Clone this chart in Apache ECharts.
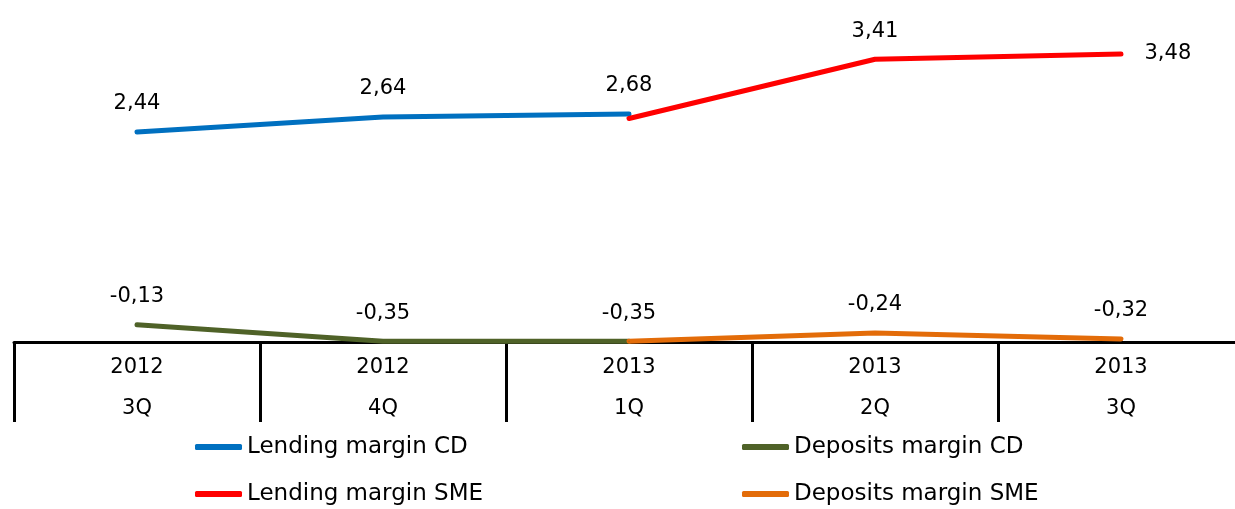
<!DOCTYPE html>
<html>
<head>
<meta charset="utf-8">
<script src="https://cdn.jsdelivr.net/npm/echarts@6/dist/echarts.min.js"></script>
<style>
  html, body { margin: 0; padding: 0; background: #ffffff; overflow: hidden; }
  #chart { width: 1245px; height: 509px; }
</style>
</head>
<body>
<div id="chart"></div>
<script>
// Quarters shown on the category axis
const years = ['2012', '2012', '2013', '2013', '2013'];
const quarters = ['3Q', '4Q', '1Q', '2Q', '3Q'];

// Margins, percentage points ('-' = no value for that quarter)
const lendingCD = [2.44, 2.64, 2.68, '-', '-'];
const lendingSME = ['-', '-', 2.62, 3.41, 3.48];
const depositsCD = [-0.13, -0.35, -0.35, '-', '-'];
const depositsSME = ['-', '-', -0.35, -0.24, -0.32];

// Which points carry a value label
const lendingCDLabels = [true, true, true, false, false];
const lendingSMELabels = [false, false, false, true, true];
const depositsCDLabels = [true, true, true, false, false];
const depositsSMELabels = [false, false, false, true, true];

const seriesNames = ['Lending margin CD', 'Lending margin SME', 'Deposits margin CD', 'Deposits margin SME'];
const colors = ['#0070C0', '#FF0000', '#4F6228', '#E36C09'];

const FONT = 'DejaVu Sans';
const fmt = v => String(v.toFixed(2)).replace('.', ',');

function buildData(values, labels, rightLast) {
  return values.map((v, i) => {
    if (v === '-') return '-';
    const item = { value: v, label: { show: labels[i] } };
    if (rightLast && i === values.length - 1) {
      item.label.position = 'right';
      item.label.distance = 23;
    }
    return item;
  });
}

function lineSeries(name, color, values, labels, rightLast) {
  return {
    name: name,
    type: 'line',
    data: buildData(values, labels, rightLast),
    symbol: 'circle',
    symbolSize: 1,
    showSymbol: true,
    connectNulls: false,
    silent: true,
    animation: false,
    lineStyle: { color: color, width: 5, cap: 'round', join: 'round' },
    itemStyle: { color: color },
    label: {
      show: true,
      position: 'top',
      distance: 17,
      color: '#000000',
      fontFamily: FONT,
      fontSize: 21,
      formatter: p => fmt(p.value)
    }
  };
}

function legendColumn(left, names) {
  return {
    orient: 'vertical',
    left: left,
    top: 435,
    padding: 0,
    itemWidth: 47,
    itemHeight: 6,
    itemGap: 23,
    icon: 'roundRect',
    data: names,
    textStyle: { color: '#000000', fontFamily: FONT, fontSize: 23, lineHeight: 24 }
  };
}

const chart = echarts.init(document.getElementById('chart'), null, { renderer: 'canvas' });

chart.setOption({
  backgroundColor: '#ffffff',
  animation: false,
  // the plot runs slightly past the visible right edge
  grid: { left: 14, right: 1, top: 15, bottom: 167 },
  xAxis: {
    type: 'category',
    data: years.map((y, i) => y + '\n' + quarters[i]),
    boundaryGap: true,
    axisLine: { onZero: false, lineStyle: { color: '#000000', width: 3 } },
    axisTick: { show: true, interval: 0, length: 80, inside: false, lineStyle: { color: '#000000', width: 3 } },
    axisLabel: {
      interval: 0,
      color: '#000000',
      fontFamily: FONT,
      fontSize: 21,
      lineHeight: 41,
      margin: 5
    },
    splitLine: { show: false }
  },
  yAxis: {
    type: 'value',
    min: -0.36,
    max: 4,
    show: false,
    splitLine: { show: false }
  },
  legend: [
    legendColumn(195, [seriesNames[0], seriesNames[1]]),
    legendColumn(742, [seriesNames[2], seriesNames[3]])
  ],
  series: [
    lineSeries(seriesNames[0], colors[0], lendingCD, lendingCDLabels, false),
    lineSeries(seriesNames[1], colors[1], lendingSME, lendingSMELabels, true),
    lineSeries(seriesNames[2], colors[2], depositsCD, depositsCDLabels, false),
    lineSeries(seriesNames[3], colors[3], depositsSME, depositsSMELabels, false)
  ]
});
</script>
</body>
</html>
